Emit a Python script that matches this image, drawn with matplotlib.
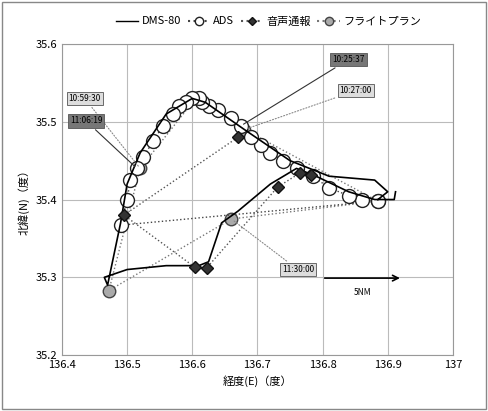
import matplotlib.pyplot as plt
from matplotlib.lines import Line2D
from matplotlib.patches import Rectangle

plt.rcParams['font.family'] = ['Noto Sans CJK JP', 'DejaVu Sans']

dms_lon = [136.885, 136.9, 136.88, 136.81, 136.75, 136.68, 136.62, 136.6, 136.56, 136.52,
           136.5, 136.49, 136.47, 136.465, 136.5, 136.56, 136.61, 136.625, 136.645, 136.67,
           136.72, 136.76, 136.79, 136.84, 136.88, 136.91, 136.912]
dms_lat = [35.40, 35.41, 35.425, 35.43, 35.45, 35.49, 35.525, 35.53, 35.51, 35.46,
           35.42, 35.37, 35.29, 35.30, 35.31, 35.315, 35.315, 35.32, 35.37, 35.385,
           35.42, 35.44, 35.43, 35.41, 35.40, 35.40, 35.41]

ads_lon = [136.885, 136.86, 136.84, 136.81, 136.785, 136.76, 136.74, 136.72, 136.705, 136.69,
           136.675, 136.66, 136.64, 136.625, 136.615, 136.61, 136.6, 136.59, 136.58, 136.57,
           136.555, 136.54, 136.525, 136.515, 136.505, 136.5, 136.49, 136.885]
ads_lat = [35.398, 35.40, 35.405, 35.415, 35.43, 35.44, 35.45, 35.46, 35.47, 35.48,
           35.495, 35.505, 35.515, 35.52, 35.525, 35.53, 35.53, 35.525, 35.52, 35.51,
           35.495, 35.475, 35.455, 35.44, 35.425, 35.40, 35.367, 35.398]

voice_lon = [136.67, 136.495, 136.604, 136.622, 136.731, 136.765, 136.783]
voice_lat = [35.48, 35.38, 35.313, 35.312, 35.416, 35.434, 35.432]

fp_lon = [136.885, 136.68, 136.605, 136.52, 136.472, 136.66, 136.885]
fp_lat = [35.398, 35.49, 35.53, 35.44, 35.283, 35.375, 35.398]

labels = ['10:25:37', '10:27:00', '10:59:30', '11:06:19', '11:30:00']
label_xy = [(136.84, 35.58), (136.851, 35.54), (136.435, 35.53), (136.437, 35.501), (136.762, 35.31)]
label_pt = [(136.675, 35.495), (136.68, 35.49), (136.52, 35.44), (136.515, 35.44), (136.66, 35.375)]
label_dark = [True, False, False, True, False]

fig = plt.figure(figsize=(4.88, 4.11), dpi=100)
ax = fig.add_axes([0.127, 0.136, 0.801, 0.757])
fig.patches.append(Rectangle((0.005, 0.005), 0.99, 0.99, transform=fig.transFigure,
                             fill=False, ec='#888888', lw=1))

ax.plot(fp_lon, fp_lat, ls=':', color='#777777', lw=1, marker='o', ms=9,
        mfc='#aaaaaa', mec='#444444', zorder=2)
ax.plot(ads_lon, ads_lat, ls=':', color='#444444', lw=1, marker='o', ms=10,
        mfc='white', mec='#222222', zorder=3)
ax.plot(dms_lon, dms_lat, color='black', lw=1.2, zorder=4)
ax.plot(voice_lon, voice_lat, ls=':', color='#555555', lw=1, marker='D', ms=6,
        mfc='#333333', mec='#111111', zorder=5)

for t, xy, pt, dark in zip(labels, label_xy, label_pt, label_dark):
    ax.annotate(t, xy=pt, xytext=xy, fontsize=6, ha='center', va='center',
                bbox=dict(boxstyle='square,pad=0.25', fc='#777777' if dark else '#dddddd',
                          ec='#555555', lw=0.6),
                arrowprops=dict(arrowstyle='-', color='#333333' if dark else '#888888',
                                lw=0.8, ls='-' if dark else ':'),
                zorder=6)

ax.annotate('', xy=(136.923, 35.299), xytext=(136.799, 35.299),
            arrowprops=dict(arrowstyle='->', color='black', lw=1.2))
ax.text(136.861, 35.28, '5NM', fontsize=6, ha='center', va='center')

ax.set_xlim(136.4, 137)
ax.set_ylim(35.2, 35.6)
ax.set_xticks([136.4, 136.5, 136.6, 136.7, 136.8, 136.9, 137])
ax.set_xticklabels(['136.4', '136.5', '136.6', '136.7', '136.8', '136.9', '137'])
ax.set_yticks([35.2, 35.3, 35.4, 35.5, 35.6])
ax.tick_params(labelsize=8, length=0)
ax.grid(True, color='#bbbbbb', lw=0.8)
for s in ax.spines.values():
    s.set_color('#999999')
ax.set_xlabel('経度(E)（度）', fontsize=8)
ax.set_ylabel('北緯(N)（度）', fontsize=8)

handles = [
    Line2D([], [], color='black', lw=1),
    Line2D([], [], color='#444444', ls=':', marker='o', mfc='white', mec='#222222', ms=6),
    Line2D([], [], color='#555555', ls=':', marker='D', mfc='#333333', mec='#111111', ms=4),
    Line2D([], [], color='#777777', ls=':', marker='o', mfc='#aaaaaa', mec='#444444', ms=6),
]
fig.legend(handles, ['DMS-80', 'ADS', '音声通報', 'フライトプラン'], loc='upper center',
           bbox_to_anchor=(0.55, 0.985), ncol=4, frameon=False, fontsize=8,
           handlelength=2, columnspacing=0.6, handletextpad=0.3)

fig.savefig('out.png', dpi=100)
